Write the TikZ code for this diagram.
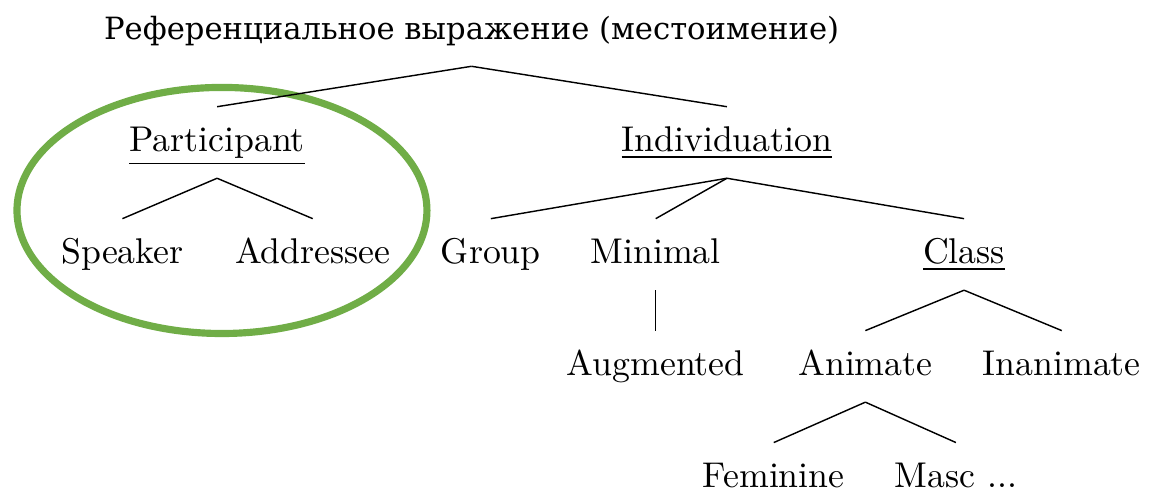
\documentclass[tikz,border=0pt]{standalone}
\usepackage{fontspec}
\newfontfamily\cyrfont{DejaVu Serif}[Scale=0.857]
\usetikzlibrary{positioning}
\definecolor{ringgreen}{RGB}{112,173,71}
\tikzset{lbl/.style={inner xsep=2pt, inner ysep=5.3pt, text height=7pt, text depth=2pt}}
\tikzset{ring/.style={draw=ringgreen, line width=2pt}}

\begin{document}
\begin{tikzpicture}
\useasboundingbox (0,0) rectangle (11.30,-4.844);

%%% Highlight:

\draw[ring] (2.181,-2.068) ellipse [x radius=2.014, y radius=1.209];

\begin{scope}[on grid]

%%% Top:

\node[lbl] (root) at (4.633,-0.300) {\cyrfont Референциальное выражение (местоимение)};

\node[lbl] (part) [below left = 1.1 and 2.50 of root] {\underline{Participant}};
\node[lbl] (ind) [below right = 1.1 and 2.51 of root] {\underline{Individuation}};

\draw (root.south) -- (part.north);
\draw (root.south) -- (ind.north);

%%% Participant:

\node[lbl] (spk) [below left = 1.1 and 0.93 of part] {Speaker};
\node[lbl] (adr) [below right = 1.1 and 0.94 of part] {Addressee};

\draw (part.south) -- (spk.north);
\draw (part.south) -- (adr.north);

%%% Individuation:

\node[lbl] (grp) [below left = 1.1 and 2.32 of ind] {Group};
\node[lbl] (min) [below left = 1.1 and 0.70 of ind] {Minimal};
\node[lbl] (cls) [below right = 1.1 and 2.33 of ind] {\underline{Class}};

\draw (ind.south) -- (grp.north);
\draw (ind.south) -- (min.north);
\draw (ind.south) -- (cls.north);

\node[lbl] (aug) [below = 1.1 of min] {Augmented};
\draw (min.south) -- (aug.north);

%%% Class:

\node[lbl] (anim) [below left = 1.1 and 0.97 of cls] {Animate};
\node[lbl] (inan) [below right = 1.1 and 0.96 of cls] {Inanimate};

\draw (cls.south) -- (anim.north);
\draw (cls.south) -- (inan.north);

\node[lbl] (fem) [below left = 1.1 and 0.90 of anim] {Feminine};
\node[lbl] (masc) [below right = 1.1 and 0.89 of anim] {Masc ...};

\draw (anim.south) -- (fem.north);
\draw (anim.south) -- (masc.north);

\end{scope}
\end{tikzpicture}
\end{document}
